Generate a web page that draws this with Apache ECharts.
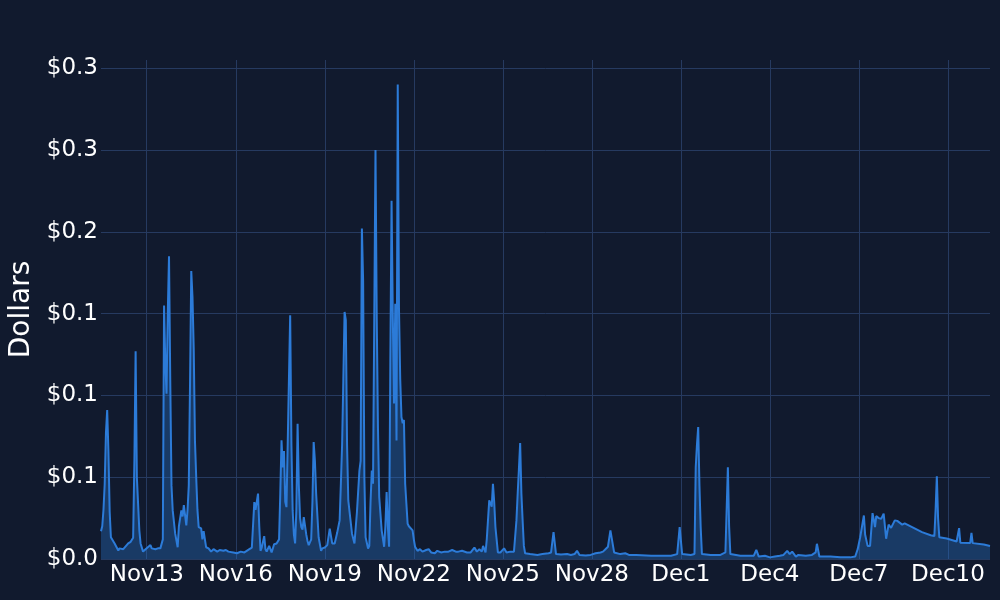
<!DOCTYPE html>
<html>
<head>
<meta charset="utf-8">
<script src="https://cdn.jsdelivr.net/npm/echarts@6/dist/echarts.min.js"></script>
<style>
html,body{margin:0;padding:0;background:#111a2e;}
#chart{width:1000px;height:600px;}
</style>
</head>
<body>
<div id="chart"></div>
<script>
// Hourly cost samples: [hours since 2023-11-11 11:00, dollars]
var nov11to16 = [[0,0.017],[1,0.02],[2,0.03],[3,0.046],[4,0.077],[5,0.091],[6,0.066],[7,0.029],[8,0.0133],[11,0.0095],[14,0.0052],[15,0.0065],[16,0.0077],[18,0.006],[19,0.0065],[22,0.0095],[23,0.009],[24,0.0105],[26,0.013],[27,0.06],[28,0.127],[29,0.05],[31,0.0175],[32,0.0095],[34,0.0045],[36,0.006],[37,0.005],[40,0.0085],[41,0.0065],[44,0.006],[46,0.0065],[48,0.0065],[50,0.012],[51,0.155],[52,0.12],[53,0.101],[54,0.15],[55,0.185],[56,0.11],[57,0.045],[58,0.0297],[60,0.0155],[62,0.0072],[63,0.02],[65,0.0297],[66,0.026],[67,0.033],[69,0.0205],[70,0.03],[71,0.045],[72,0.107],[73,0.176],[74,0.16],[75,0.128],[76,0.072],[77,0.05],[78,0.03],[79,0.0195],[81,0.0187],[82,0.012],[83,0.017],[85,0.0072],[87,0.0065],[89,0.0045],[91,0.006],[94,0.0045],[96,0.0055],[99,0.005],[101,0.0055],[103,0.0045],[107,0.004],[110,0.0035],[113,0.0045],[116,0.004],[120,0.006]];
var nov16to22 = [[122,0.007],[124,0.0348],[125,0.03],[127,0.04],[128,0.02],[129,0.005],[130,0.007],[132,0.014],[133,0.006],[134,0.0045],[136,0.008],[138,0.004],[140,0.009],[142,0.0095],[144,0.012],[145,0.04],[146,0.0725],[147,0.056],[148,0.066],[149,0.035],[150,0.0317],[151,0.07],[152,0.11],[153,0.149],[154,0.07],[155,0.0297],[156,0.015],[157,0.0095],[158,0.03],[159,0.0827],[160,0.045],[161,0.025],[162,0.0195],[163,0.018],[164,0.0256],[166,0.015],[167,0.011],[168,0.0085],[170,0.012],[171,0.035],[172,0.0715],[173,0.06],[174,0.04],[176,0.0133],[178,0.005],[179,0.0065],[181,0.007],[183,0.0085],[185,0.0185],[187,0.0095],[189,0.0095],[191,0.016],[193,0.0236],[194,0.046],[195,0.07],[196,0.11],[197,0.151],[198,0.146],[199,0.07],[200,0.0358],[201,0.035],[203,0.0155],[205,0.0095],[207,0.0287],[209,0.054],[210,0.06],[211,0.202],[212,0.17],[213,0.05],[214,0.0133],[216,0.0064],[217,0.008],[218,0.035],[219,0.054],[220,0.046],[221,0.146],[222,0.25],[223,0.148],[224,0.08],[225,0.038],[227,0.0175],[229,0.0075],[230,0.02],[231,0.041],[232,0.02],[233,0.0075],[234,0.12],[235,0.219],[236,0.148],[237,0.095],[238,0.156],[239,0.0725],[240,0.29],[241,0.153],[242,0.11],[243,0.0868],[244,0.083],[245,0.085],[246,0.046],[248,0.0215],[249,0.02],[250,0.019],[252,0.0175],[253,0.012],[254,0.0075],[256,0.005]];
var nov22to28 = [[258,0.006],[260,0.0045],[263,0.0055],[265,0.006],[267,0.004],[270,0.0035],[272,0.005],[275,0.004],[278,0.0045],[281,0.0045],[284,0.0055],[287,0.0045],[289,0.0045],[292,0.005],[296,0.004],[299,0.004],[302,0.007],[304,0.0045],[306,0.006],[308,0.0045],[309,0.008],[311,0.004],[312,0.012],[314,0.0358],[316,0.032],[317,0.046],[318,0.035],[319,0.0195],[321,0.004],[323,0.004],[326,0.0065],[328,0.004],[331,0.0045],[334,0.0045],[336,0.0236],[337,0.04],[338,0.055],[339,0.0709],[340,0.04],[341,0.0236],[342,0.008],[343,0.0035],[347,0.003],[353,0.0025],[357,0.003],[362,0.0035],[364,0.004],[366,0.0164],[368,0.003],[372,0.0028],[377,0.003],[380,0.0025],[383,0.003],[385,0.005],[387,0.0025],[392,0.0022],[396,0.0025],[400,0.0035],[404,0.004],[406,0.0045],[408,0.006],[410,0.0075],[412,0.0175],[413,0.018],[415,0.004],[420,0.003]];
var nov28toDec6 = [[424,0.0035],[427,0.0025],[433,0.0025],[441,0.0022],[442,0.003],[445,0.002],[453,0.002],[461,0.002],[466,0.003],[468,0.0195],[470,0.003],[477,0.0025],[480,0.003],[481,0.056],[482,0.07],[483,0.0807],[484,0.045],[485,0.0195],[486,0.003],[493,0.0025],[501,0.0025],[505,0.004],[506,0.03],[507,0.056],[508,0.02],[509,0.003],[517,0.002],[525,0.002],[528,0.002],[530,0.0056],[532,0.0015],[537,0.002],[541,0.001],[545,0.0015],[549,0.002],[552,0.0025],[555,0.005],[557,0.003],[559,0.0045],[562,0.0015],[564,0.0025],[570,0.002],[575,0.0025],[578,0.004],[579,0.0093],[581,0.0015],[590,0.0015],[598,0.001],[606,0.001]];
var dec6to11 = [[610,0.0015],[612,0.006],[614,0.0133],[617,0.0266],[618,0.015],[620,0.008],[622,0.008],[624,0.028],[625,0.024],[626,0.0195],[627,0.0262],[629,0.025],[631,0.0245],[633,0.0277],[635,0.0124],[637,0.021],[639,0.019],[642,0.0236],[644,0.0233],[648,0.021],[650,0.0218],[656,0.0195],[664,0.0164],[671,0.0145],[674,0.014],[675,0.03],[676,0.0505],[677,0.025],[678,0.0133],[684,0.0125],[692,0.0107],[694,0.0189],[695,0.01],[703,0.0098],[704,0.016],[705,0.0097],[714,0.0088],[719,0.008]];

// x tick dates (month index, day) at midnight, and their labels
var xTickDays = [[10,13],[10,16],[10,19],[10,22],[10,25],[10,28],[11,1],[11,4],[11,7],[11,10]];
var xTickLabels = ['Nov13','Nov16','Nov19','Nov22','Nov25','Nov28','Dec1','Dec4','Dec7','Dec10'];
var yTickValues = [0, 0.05, 0.1, 0.15, 0.2, 0.25, 0.3];
var yTickLabels = ['$0.0','$0.1','$0.1','$0.1','$0.2','$0.3','$0.3'];

var HOUR = 3600000;
var startMs = Date.UTC(2023, 10, 11, 11, 0, 0);
var samples = [].concat(nov11to16, nov16to22, nov22to28, nov28toDec6, dec6to11);
var xTickHours = xTickDays.map(function (d) { return (Date.UTC(2023, d[0], d[1], 0, 0, 0) - startMs) / HOUR; });

var FONT = 'DejaVu Sans';
var GRID = '#263a60';
var LINE = '#2c7bd8';

var chart = echarts.init(document.getElementById('chart'), null, {renderer: 'canvas'});
chart.setOption({
  backgroundColor: '#111a2e',
  animation: false,
  grid: {left: 101, right: 10, top: 60, bottom: 41, containLabel: false, outerBoundsMode: 'none'},
  xAxis: {
    type: 'value',
    min: 0,
    max: 719,
    axisLine: {show: false},
    axisTick: {show: false, customValues: xTickHours},
    axisLabel: {
      customValues: xTickHours,
      color: '#ffffff',
      fontFamily: FONT,
      fontSize: 23,
      margin: 5,
      formatter: function (v) {
        for (var i = 0; i < xTickHours.length; i++) {
          if (Math.abs(xTickHours[i] - v) < 1e-6) return xTickLabels[i];
        }
        return '';
      }
    },
    splitLine: {show: true, lineStyle: {color: GRID, width: 1}}
  },
  yAxis: {
    type: 'value',
    min: 0,
    max: 0.305,
    interval: 0.05,
    axisLine: {show: false},
    axisTick: {show: false},
    axisLabel: {
      color: '#ffffff',
      fontFamily: FONT,
      fontSize: 23,
      margin: 3,
      showMaxLabel: false,
      formatter: function (v) {
        for (var i = 0; i < yTickValues.length; i++) {
          if (Math.abs(yTickValues[i] - v) < 1e-9) return yTickLabels[i];
        }
        return '';
      }
    },
    splitLine: {show: true, showMaxLine: false, lineStyle: {color: GRID, width: 1}},
    name: 'Dollars',
    nameLocation: 'middle',
    nameGap: 65,
    nameTextStyle: {color: '#ffffff', fontFamily: FONT, fontSize: 28}
  },
  series: [{
    type: 'line',
    data: samples,
    showSymbol: false,
    symbol: 'none',
    lineStyle: {color: LINE, width: 2},
    itemStyle: {color: LINE},
    areaStyle: {color: 'rgba(44,123,216,0.47)'}
  }]
});
</script>
</body>
</html>
